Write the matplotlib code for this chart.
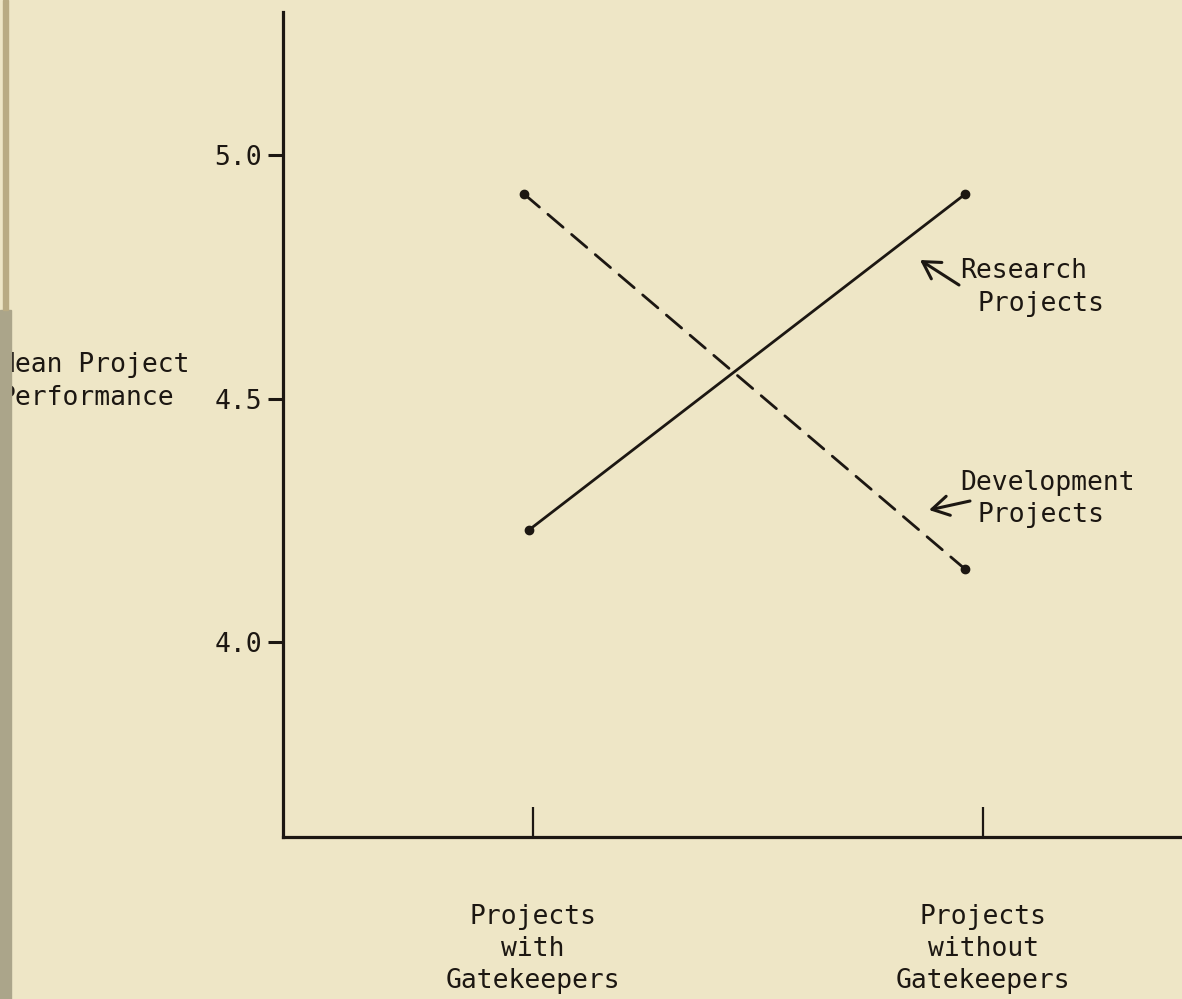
import matplotlib
matplotlib.use("Agg")
from matplotlib import pyplot as plt
from matplotlib.patches import Rectangle

# categorias del eje x
categorias = ["Projects\nwith\nGatekeepers", "Projects\nwithout\nGatekeepers"]
pos_categorias = [0, 1]

# medias (puntos hechos a mano, algo corridos del tick)
research_x = [-0.01, 0.96]
research_y = [4.23, 4.92]
development_x = [-0.02, 0.96]
development_y = [4.92, 4.15]

y_ticks = [4.0, 4.5, 5.0]
y_ticklabels = ["4.0", "4.5", "5.0"]

W, H = 1182, 999
papel = "#eee6c6"
tinta = "#1c1712"
plt.rcParams["font.family"] = "DejaVu Sans Mono"
TAM = 19


def px(x, y):
    """pixeles de la imagen -> fraccion de figura"""
    return x / W, 1 - y / H


fig = plt.figure(figsize=(W / 100, H / 100), dpi=100, facecolor=papel)
ax = fig.add_axes([283 / W, 1 - 837 / H, (W - 283) / W, (837 - 12) / H])
ax.set_facecolor(papel)

##########
# LINEAS #
##########

ax.plot(research_x, research_y, color=tinta, lw=2.0, marker="o", ms=6,
        solid_capstyle="round", clip_on=False)
dev, = ax.plot(development_x, development_y, color=tinta, lw=2.0, marker="o",
               ms=6, clip_on=False)
dev.set_dashes((7.2, 4.0))
dev.set_dash_capstyle("round")

ax.set_xlim(-0.556, 1.442)
ax.set_ylim(3.600, 5.294)

for lado in ("top", "right"):
    ax.spines[lado].set_visible(False)
for lado in ("left", "bottom"):
    ax.spines[lado].set_linewidth(2.3)
    ax.spines[lado].set_color(tinta)

#########
# EJES  #
#########

ax.set_xticks(pos_categorias, categorias)
ax.tick_params(axis="x", direction="in", length=21.6, width=1.6, pad=48,
               labelsize=TAM, colors=tinta)
for t in ax.get_xticklabels():
    t.set_linespacing(1.3)
    t.set_multialignment("center")

ax.set_yticks(y_ticks, y_ticklabels)
ax.tick_params(axis="y", direction="out", length=10.8, width=2.2, pad=4.3,
               labelsize=TAM, colors=tinta)

fig.text(*px(-1, 372), "Mean Project", size=TAM, color=tinta, va="baseline")
fig.text(*px(-1, 405), "Performance", size=TAM, color=tinta, va="baseline")

##############
# ETIQUETAS  #
##############

flecha = dict(arrowstyle="->,head_length=0.6,head_width=0.35", lw=2.2,
              color=tinta, shrinkA=0, shrinkB=0, mutation_scale=20)
ax.annotate("", xy=px(920, 260), xytext=px(959, 285), xycoords="figure fraction",
            textcoords="figure fraction", arrowprops=flecha)
ax.annotate("", xy=px(929, 510), xytext=px(970, 501), xycoords="figure fraction",
            textcoords="figure fraction", arrowprops=flecha)

fig.text(*px(960, 278), "Research", size=TAM, color=tinta, va="baseline")
fig.text(*px(977, 311), "Projects", size=TAM, color=tinta, va="baseline")
fig.text(*px(960, 490), "Development", size=TAM, color=tinta, va="baseline")
fig.text(*px(977, 522), "Projects", size=TAM, color=tinta, va="baseline")

# borde del escaneo a la izquierda
fig.patches.append(Rectangle(px(0, 999), 11 / W, 689 / H, transform=fig.transFigure,
                             color="#aba58a", zorder=10))
fig.patches.append(Rectangle(px(3, 310), 5 / W, 310 / H, transform=fig.transFigure,
                             color="#b9ab83", zorder=10))

fig.savefig("out.png", dpi=100, facecolor=papel)
